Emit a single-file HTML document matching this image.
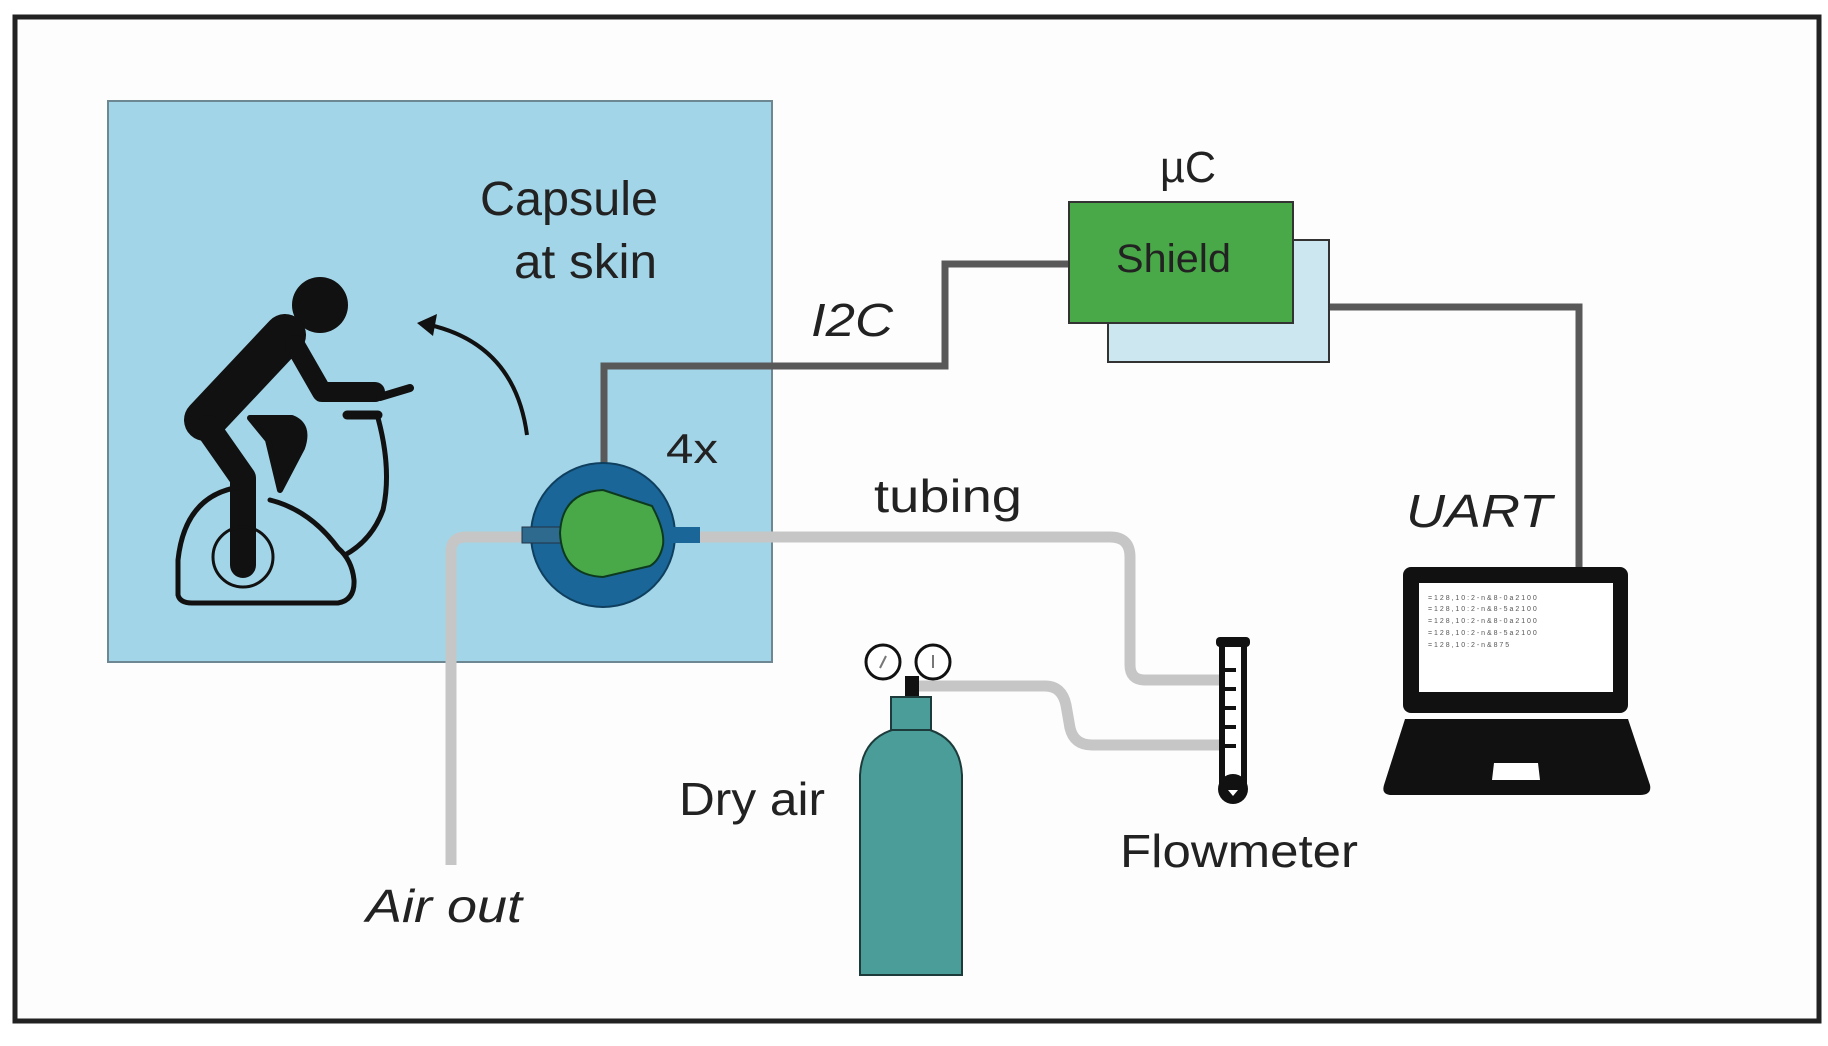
<!DOCTYPE html>
<html><head><meta charset="utf-8"><style>
html,body{margin:0;padding:0;background:#fff}
svg{display:block}
text{font-family:"Liberation Sans",sans-serif;fill:#222}
</style></head><body>
<svg width="1828" height="1046" viewBox="0 0 1828 1046" xmlns="http://www.w3.org/2000/svg">
<rect x="0" y="0" width="1828" height="1046" fill="#fff"/>
<rect x="15" y="17" width="1804" height="1004" fill="#fdfdfd" stroke="#222" stroke-width="5"/>
<!-- capsule box -->
<rect x="108" y="101" width="664" height="561" fill="#a3d5e8" stroke="#6e8893" stroke-width="2"/>
<text x="480" y="215" font-size="48" textLength="178" lengthAdjust="spacingAndGlyphs">Capsule</text>
<text x="514" y="278" font-size="48" textLength="143" lengthAdjust="spacingAndGlyphs">at skin</text>
<!-- cyclist -->
<g fill="#111" stroke="#111" stroke-linecap="round" stroke-linejoin="round">
<circle cx="320" cy="305" r="28" stroke="none"/>
<path d="M285 335 L205 420" stroke-width="42" fill="none"/>
<path d="M295 345 L322 392 L375 392" stroke-width="20" fill="none"/>
<path d="M208 428 L243 478 L243 565" stroke-width="26" fill="none"/>
<path d="M250 418 L292 418 Q310 425 302 448 L280 490 L268 440 Z" stroke-width="6"/>
<path d="M380 397 L410 388" stroke-width="8" fill="none"/>
<path d="M347 415 H378" stroke-width="9" fill="none"/>
</g>
<g fill="none" stroke="#111" stroke-width="5" stroke-linecap="round" stroke-linejoin="round">
<path d="M378 418 Q392 470 383 510 Q372 540 345 555"/>
<path d="M240 487 Q185 495 178 560 L178 595 Q180 603 192 603 L338 603 Q355 600 354 580 Q352 560 338 548 Q310 510 270 500"/>
<circle cx="243" cy="557" r="30" stroke-width="3"/>
</g>
<!-- arrow -->
<path d="M527 435 Q515 345 430 325" fill="none" stroke="#111" stroke-width="4"/>
<path d="M417 323 L437 314 L433 336 Z" fill="#111"/>
<!-- tubes -->
<g fill="none" stroke="#c6c6c6" stroke-width="11" stroke-linejoin="round">
<path d="M560 537 H466 Q451 537 451 552 V865"/>
<path d="M700 537 H1110 Q1130 537 1130 557 V665 Q1130 680 1145 680 H1220"/>
<path d="M918 686 H1045 Q1062 686 1066 705 L1070 728 Q1074 745 1092 745 H1220"/>
</g>
<!-- I2C wire -->
<path d="M604 490 V366 H945 V264 H1069" fill="none" stroke="#595959" stroke-width="7"/>
<path d="M1329 307 H1579 V567" fill="none" stroke="#595959" stroke-width="7"/>
<!-- sensor -->
<ellipse cx="603" cy="535" rx="72" ry="72" fill="#1b6698" stroke="#0f3f5e" stroke-width="2"/>
<rect x="522" y="527" width="40" height="16" fill="#2d6a8e" stroke="#234" stroke-width="1"/>
<rect x="662" y="527" width="38" height="16" fill="#1b6698"/>
<path d="M603 490 L652 506 Q665 530 663 545 Q660 560 650 566 L603 577 Q562 575 560 533 Q562 492 603 490 Z" fill="#49a848" stroke="#0d3a1e" stroke-width="2"/>
<text x="666" y="463" font-size="42" textLength="52" lengthAdjust="spacingAndGlyphs">4x</text>
<!-- I2C -->
<text x="811" y="336" font-size="46" font-style="italic" textLength="82" lengthAdjust="spacingAndGlyphs">I2C</text>
<!-- shield -->
<rect x="1108" y="240" width="221" height="122" fill="#cde7f1" stroke="#333" stroke-width="2"/>
<rect x="1069" y="202" width="224" height="121" fill="#49a848" stroke="#333" stroke-width="2"/>
<text x="1116" y="272" font-size="40" textLength="115" lengthAdjust="spacingAndGlyphs">Shield</text>
<text x="1160" y="182" font-size="44" textLength="56" lengthAdjust="spacingAndGlyphs">µC</text>
<text x="874" y="512" font-size="46" textLength="148" lengthAdjust="spacingAndGlyphs">tubing</text>
<text x="1406" y="527" font-size="46" font-style="italic" textLength="146" lengthAdjust="spacingAndGlyphs">UART</text>
<!-- laptop -->
<rect x="1403" y="567" width="225" height="146" rx="8" fill="#111"/>
<rect x="1419" y="583" width="194" height="109" fill="#fff"/>
<g font-size="7" fill="#555">
<text x="1428" y="600" style="fill:#555">= 1 2 8 , 1 0 : 2 - n &amp; 8 - 0 a 2 1 0 0</text>
<text x="1428" y="611" style="fill:#555">= 1 2 8 , 1 0 : 2 - n &amp; 8 - 5 a 2 1 0 0</text>
<text x="1428" y="623" style="fill:#555">= 1 2 8 , 1 0 : 2 - n &amp; 8 - 0 a 2 1 0 0</text>
<text x="1428" y="635" style="fill:#555">= 1 2 8 , 1 0 : 2 - n &amp; 8 - 5 a 2 1 0 0</text>
<text x="1428" y="647" style="fill:#555">= 1 2 8 , 1 0 : 2 - n &amp; 8 7 5</text>
</g>
<path d="M1405 719 H1628 L1650 785 Q1652 795 1640 795 H1392 Q1381 795 1384 785 Z" fill="#111"/>
<path d="M1494 763 H1538 L1540 780 H1492 Z" fill="#fff"/>
<!-- cylinder -->
<circle cx="883" cy="662" r="17" fill="#fff" stroke="#111" stroke-width="3"/>
<circle cx="933" cy="662" r="17" fill="#fff" stroke="#111" stroke-width="3"/>
<path d="M880 668 L886 656 M933 655 V668" stroke="#777" stroke-width="2"/>
<rect x="905" y="676" width="14" height="22" fill="#111"/>
<rect x="891" y="697" width="40" height="34" fill="#4a9d99" stroke="#1c3b3a" stroke-width="2"/>
<path d="M860 975 V775 Q862 740 892 730 H930 Q960 740 962 775 V975 Z" fill="#4a9d99" stroke="#1c3b3a" stroke-width="2"/>
<text x="679" y="815" font-size="46" textLength="146" lengthAdjust="spacingAndGlyphs">Dry air</text>
<!-- flowmeter -->
<rect x="1222" y="644" width="22" height="140" fill="#fff" stroke="#111" stroke-width="6"/>
<rect x="1216" y="637" width="34" height="10" rx="4" fill="#111"/>
<circle cx="1233" cy="789" r="15" fill="#111"/>
<path d="M1228 790 H1238 L1233 796 Z" fill="#fff"/>
<g stroke="#111" stroke-width="4"><path d="M1225 670 H1236 M1225 689 H1236 M1225 708 H1236 M1225 727 H1236 M1225 746 H1236"/></g>
<text x="1120" y="867" font-size="46" textLength="238" lengthAdjust="spacingAndGlyphs">Flowmeter</text>
<text x="366" y="922" font-size="46" font-style="italic" textLength="156" lengthAdjust="spacingAndGlyphs">Air out</text>
</svg>
</body></html>
